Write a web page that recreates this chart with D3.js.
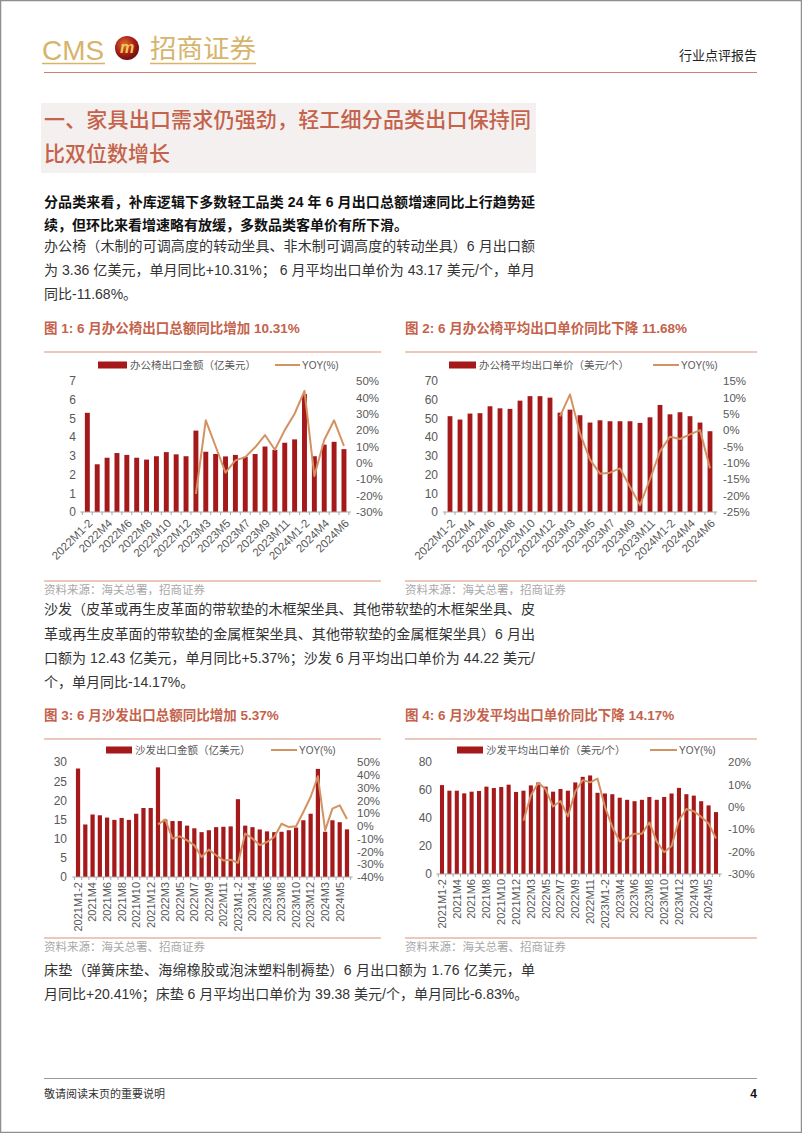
<!DOCTYPE html>
<html>
<head>
<meta charset="utf-8">
<script src="https://cdn.jsdelivr.net/npm/d3@7"></script>
<style>
  body { margin: 0; background: #fff; }
  svg { display: block; font-family: "Liberation Sans", "Noto Sans CJK SC", sans-serif; }
</style>
</head>
<body>
<svg id="page" width="802" height="1133"></svg>
<script>
// ---- data ----
const chairMonths = ["2022M1-2","2022M3","2022M4","2022M5","2022M6","2022M7","2022M8","2022M9","2022M10","2022M11","2022M12",
  "2023M1-2","2023M3","2023M4","2023M5","2023M6","2023M7","2023M8","2023M9","2023M10","2023M11","2023M12",
  "2024M1-2","2024M3","2024M4","2024M5","2024M6"];
const chairAmount = [5.3, 2.55, 2.9, 3.15, 3.05, 2.9, 2.8, 2.98, 3.2, 3.08, 2.98,
  4.35, 3.22, 3.1, 2.97, 3.05, 2.95, 3.1, 3.5, 3.32, 3.7, 3.88,
  6.3, 2.98, 3.6, 3.75, 3.36];
const chairAmountYoy = [null, null, null, null, null, null, null, null, null, null, null,
  -19, 26, 10, -6, 1.5, 3.5, 9.5, 17, 8, 20, 30,
  44, -8, 14, 26, 10.31];
const chairPrice = [51.2, 49.4, 52.6, 52.8, 56.5, 55.4, 55.1, 59.5, 61.9, 61.9, 61.1,
  53.1, 54.7, 51.7, 47.8, 49.0, 48.5, 48.5, 48.5, 47.6, 50.6, 57.2,
  52.2, 53.3, 51.2, 47.8, 43.17];
const chairPriceYoy = [null, null, null, null, null, null, null, null, null, null, null,
  4.2, 10.9, -1, -9, -13.3, -13, -11.7, -17.3, -22.9, -15, -6.5,
  -2, -2.7, -1.3, 0, -11.68];

const sofaMonths = ["2021M1-2","2021M3","2021M4","2021M5","2021M6","2021M7","2021M8","2021M9","2021M10","2021M11","2021M12",
  "2022M1-2","2022M3","2022M4","2022M5","2022M6","2022M7","2022M8","2022M9","2022M10","2022M11","2022M12",
  "2023M1-2","2023M3","2023M4","2023M5","2023M6","2023M7","2023M8","2023M9","2023M10","2023M11","2023M12",
  "2024M1-2","2024M3","2024M4","2024M5","2024M6"];
const sofaAmount = [28.3, 13.7, 16.3, 16.1, 15.5, 14.9, 15.4, 14.9, 16.5, 18.0, 18.0,
  28.6, 15.0, 14.6, 14.6, 13.4, 12.7, 11.7, 12.2, 13.0, 13.1, 13.2,
  20.3, 13.4, 13.0, 12.4, 11.9, 11.7, 11.8, 12.2, 12.9, 14.8, 16.5,
  28.2, 11.8, 14.8, 14.3, 12.43];
const sofaAmountYoy = [null, null, null, null, null, null, null, null, null, null, null,
  1.2, 4.9, -10, -8.2, -11.3, -15.2, -24.4, -18.6, -23, -27, -26.5,
  -29, -6, -10, -15, -12.6, -8.7, 1.7, -0.9, -0.3, 10.9, 22.6,
  38.8, -3.5, 13.5, 16.1, 5.37];
const sofaPrice = [63.5, 59.5, 59.5, 57.6, 58.8, 59.3, 62.4, 61.4, 62.1, 63.8, 58.6,
  59.5, 63.3, 65.4, 62.4, 58.8, 60.7, 59.5, 65.4, 69.4, 70.4, 58,
  57.5, 57, 54.5, 53, 52, 53, 55, 53, 55, 57.5, 61.5,
  57, 56, 52, 49, 44.22];
const sofaPriceYoy = [null, null, null, null, null, null, null, null, null, null, null,
  -6.2, 5, 10.7, 7.8, 0.1, 2.6, -4.3, 6.8, 11.9, 10.9, 12.6,
  0, -9, -15.5, -14, -12, -12, -7, -15.5, -20.3, -17.5, -6,
  -1, -2, -4.5, -7.5, -14.17];

// tick values
const chairAmountTicks = [0, 1, 2, 3, 4, 5, 6, 7];
const chairAmountYoyTicks = [-30, -20, -10, 0, 10, 20, 30, 40, 50];
const chairPriceTicks = [0, 10, 20, 30, 40, 50, 60, 70];
const chairPriceYoyTicks = [-25, -20, -15, -10, -5, 0, 5, 10, 15];
const sofaAmountTicks = [0, 5, 10, 15, 20, 25, 30];
const sofaAmountYoyTicks = [-40, -30, -20, -10, 0, 10, 20, 30, 40, 50];
const sofaPriceTicks = [0, 20, 40, 60, 80];
const sofaPriceYoyTicks = [-30, -20, -10, 0, 10, 20];

const BAR = "#a5191b";
const LINE = "#d39262";
const TITLE = "#c4624b";
const RULE = "#dc8d7b";
const AXIS_TXT = "#595959";

const svg = d3.select("#page");

// page frame
svg.append("rect").attr("x", 0.5).attr("y", 0.5).attr("width", 801).attr("height", 1132)
  .attr("fill", "#fff").attr("stroke", "#8f8f8f").attr("stroke-width", 1.5);

// ---- header ----
const gold = "#d6b46b";
svg.append("text").attr("x", 42).attr("y", 60).text("CMS")
  .attr("font-size", 28).attr("fill", gold).attr("textLength", 62).attr("lengthAdjust", "spacingAndGlyphs");
const grad = svg.append("defs").append("radialGradient").attr("id", "ball").attr("cx", "40%").attr("cy", "35%").attr("r", "65%");
grad.append("stop").attr("offset", "0%").attr("stop-color", "#e0702a");
grad.append("stop").attr("offset", "60%").attr("stop-color", "#a8201a");
grad.append("stop").attr("offset", "100%").attr("stop-color", "#6e1010");
svg.append("circle").attr("cx", 127).attr("cy", 48).attr("r", 12).attr("fill", "url(#ball)");
svg.append("text").attr("x", 127).attr("y", 53).attr("text-anchor", "middle").text("m")
  .attr("font-size", 16).attr("font-weight", "bold").attr("font-style", "italic").attr("fill", "#f1c75a");
svg.append("text").attr("x", 150).attr("y", 58).text("招商证券")
  .attr("font-size", 26).attr("fill", gold).attr("font-family", "Noto Sans CJK SC")
  .attr("textLength", 106).attr("lengthAdjust", "spacingAndGlyphs");
svg.append("line").attr("x1", 42).attr("x2", 105).attr("y1", 63.5).attr("y2", 63.5).attr("stroke", gold).attr("stroke-width", 1.5);
svg.append("line").attr("x1", 150).attr("x2", 256).attr("y1", 63.5).attr("y2", 63.5).attr("stroke", gold).attr("stroke-width", 1.5);
svg.append("text").attr("x", 757).attr("y", 60).attr("text-anchor", "end").text("行业点评报告")
  .attr("font-size", 13).attr("fill", "#222");
svg.append("line").attr("x1", 44).attr("x2", 757).attr("y1", 72.5).attr("y2", 72.5).attr("stroke", "#cf7f70").attr("stroke-width", 1);

// ---- section title ----
svg.append("rect").attr("x", 41).attr("y", 103).attr("width", 495).attr("height", 70).attr("fill", "#f4f0ef");
function line(txt, x, y, opts) {
  const t = svg.append("text").attr("x", x).attr("y", y).text(txt)
    .attr("font-size", opts.size).attr("fill", opts.color || "#333");
  if (opts.weight) t.attr("font-weight", opts.weight);
  if (opts.width) t.attr("textLength", opts.width).attr("lengthAdjust", "spacing");
  if (opts.anchor) t.attr("text-anchor", opts.anchor);
  return t;
}
line("一、家具出口需求仍强劲，轻工细分品类出口保持同", 44, 127, {size: 21, color: TITLE, weight: 500, width: 487});
line("比双位数增长", 44, 161, {size: 21, color: TITLE, weight: 500});

// ---- paragraphs ----
line("分品类来看，补库逻辑下多数轻工品类 24 年 6 月出口总额增速同比上行趋势延", 44, 207, {size: 14, color: "#111", weight: "bold", width: 491});
line("续，但环比来看增速略有放缓，多数品类客单价有所下滑。", 44, 230, {size: 14, color: "#111", weight: "bold"});
line("办公椅（木制的可调高度的转动坐具、非木制可调高度的转动坐具）6 月出口额", 44, 251, {size: 14, width: 491});
line("为 3.36 亿美元，单月同比+10.31%；  6 月平均出口单价为 43.17 美元/个，单月", 44, 275, {size: 14, width: 491});
line("同比-11.68%。", 44, 299, {size: 14});

line("沙发（皮革或再生皮革面的带软垫的木框架坐具、其他带软垫的木框架坐具、皮", 44, 614, {size: 14, width: 491});
line("革或再生皮革面的带软垫的金属框架坐具、其他带软垫的金属框架坐具）6 月出", 44, 639, {size: 14, width: 491});
line("口额为 12.43 亿美元，单月同比+5.37%；沙发 6 月平均出口单价为 44.22 美元/", 44, 663, {size: 14, width: 491});
line("个，单月同比-14.17%。", 44, 687, {size: 14});

line("床垫（弹簧床垫、海绵橡胶或泡沫塑料制褥垫）6 月出口额为 1.76 亿美元，单", 44, 975, {size: 14, width: 491});
line("月同比+20.41%；床垫 6 月平均出口单价为 39.38 美元/个，单月同比-6.83%。", 44, 999, {size: 14});

// ---- footer ----
svg.append("line").attr("x1", 44).attr("x2", 757).attr("y1", 1078.5).attr("y2", 1078.5).attr("stroke", "#9a9a9a");
line("敬请阅读末页的重要说明", 44, 1098, {size: 11, color: "#333"});
line("4", 757, 1098, {size: 12, color: "#111", weight: "bold", anchor: "end"});

// ---- charts ----
function drawChart(c) {
  const g = svg.append("g");
  // title + rules + source
  g.append("text").attr("x", c.left).attr("y", c.titleY).text(c.title)
    .attr("font-size", 13.5).attr("font-weight", "bold").attr("fill", TITLE);
  g.append("line").attr("x1", c.left).attr("x2", c.right).attr("y1", c.titleY + 19).attr("y2", c.titleY + 19)
    .attr("stroke", RULE).attr("stroke-width", 1.2);
  g.append("line").attr("x1", c.left).attr("x2", c.right).attr("y1", c.sourceY - 9).attr("y2", c.sourceY - 9)
    .attr("stroke", RULE).attr("stroke-width", 1);
  g.append("text").attr("x", c.left).attr("y", c.sourceY + 4).text(c.source)
    .attr("font-size", 11.5).attr("fill", "#a8a8a8");

  // legend
  g.append("rect").attr("x", c.legBar[0]).attr("y", c.legY - 3.5).attr("width", c.legBar[1] - c.legBar[0]).attr("height", 7).attr("fill", BAR);
  g.append("text").attr("x", c.legBar[1] + 3).attr("y", c.legY + 3.5).text(c.barName).attr("font-size", 10.5).attr("fill", AXIS_TXT);
  g.append("line").attr("x1", c.legLine[0]).attr("x2", c.legLine[1]).attr("y1", c.legY).attr("y2", c.legY).attr("stroke", LINE).attr("stroke-width", 2);
  g.append("text").attr("x", c.legLine[1] + 2).attr("y", c.legY + 3.5).text("YOY(%)").attr("font-size", 10).attr("fill", AXIS_TXT);

  const x = d3.scaleBand().domain(c.months).range(c.xRange).paddingInner(c.pad).paddingOuter(c.pad / 2);
  const y = d3.scaleLinear().domain(d3.extent(c.leftTicks)).range([c.yBottom, c.yTop]);
  const y2 = d3.scaleLinear().domain(d3.extent(c.rightTicks)).range([c.yBottom, c.yTop]);

  // left axis
  const ax = g.append("g").attr("transform", `translate(${c.leftLabelX},0)`)
    .call(d3.axisLeft(y).tickValues(c.leftTicks).tickSize(0).tickPadding(0).tickFormat(d3.format("d")));
  ax.select(".domain").remove();
  ax.selectAll("text").attr("font-size", 12).attr("fill", AXIS_TXT).attr("font-family", "Liberation Sans");

  // right axis
  const ar = g.append("g").attr("transform", `translate(${c.rightLabelX},0)`)
    .call(d3.axisRight(y2).tickValues(c.rightTicks).tickSize(0).tickPadding(0).tickFormat(d => d + "%"));
  ar.select(".domain").remove();
  ar.selectAll("text").attr("font-size", 11.5).attr("fill", AXIS_TXT).attr("font-family", "Liberation Sans");

  // bars
  g.selectAll("rect.bar").data(c.bars).join("rect").attr("class", "bar")
    .attr("x", (d, i) => x(c.months[i]))
    .attr("width", x.bandwidth())
    .attr("y", d => y(d))
    .attr("height", d => y(0) - y(d))
    .attr("fill", BAR);

  // x axis line with ticks at band edges
  const xa = g.append("g").attr("transform", `translate(0,${c.yBottom})`);
  xa.append("line").attr("x1", c.xRange[0] - 2).attr("x2", c.xRange[1] + 2).attr("stroke", "#a6a6a6");
  const step = x.step();
  xa.selectAll("line.tk").data(c.months.concat(["_end"])).join("line").attr("class", "tk")
    .attr("x1", (d, i) => x(c.months[0]) + x.bandwidth() / 2 - step / 2 + i * step)
    .attr("x2", (d, i) => x(c.months[0]) + x.bandwidth() / 2 - step / 2 + i * step)
    .attr("y1", 0).attr("y2", 3).attr("stroke", "#a6a6a6");

  const shown = c.months.filter((m, i) => i % 2 === 0);
  const lab = g.append("g").attr("transform", `translate(0,${c.yBottom})`)
    .call(d3.axisBottom(x).tickValues(shown).tickSize(0));
  lab.select(".domain").remove();
  lab.selectAll("text").attr("fill", AXIS_TXT).attr("font-family", "Liberation Sans")
    .attr("font-size", c.rotate === -45 ? 11.5 : 11)
    .attr("text-anchor", "end").attr("y", 0).attr("x", 0).attr("dy", "0.35em")
    .attr("transform", c.rotate === -45 ? "translate(3,9) rotate(-45)" : "translate(0,5) rotate(-90)");

  // yoy line
  const pts = c.yoy.map((v, i) => [v, i]).filter(d => d[0] !== null);
  g.append("path").datum(pts)
    .attr("d", d3.line().x(d => x(c.months[d[1]]) + x.bandwidth() / 2).y(d => y2(d[0])))
    .attr("fill", "none").attr("stroke", LINE).attr("stroke-width", 2).attr("stroke-linejoin", "round");
}

drawChart({
  left: 44, right: 381, titleY: 333, sourceY: 590,
  title: "图 1:  6 月办公椅出口总额同比增加 10.31%", source: "资料来源：海关总署，招商证券",
  legY: 365, legBar: [98, 127], legLine: [275, 300], barName: "办公椅出口金额（亿美元）",
  months: chairMonths, bars: chairAmount, yoy: chairAmountYoy,
  leftTicks: chairAmountTicks, rightTicks: chairAmountYoyTicks,
  xRange: [82.4, 348.9], pad: 0.5, yTop: 381, yBottom: 512,
  leftLabelX: 76, rightLabelX: 356, rotate: -45
});
drawChart({
  left: 405, right: 757, titleY: 333, sourceY: 590,
  title: "图 2:  6 月办公椅平均出口单价同比下降 11.68%", source: "资料来源：海关总署，招商证券",
  legY: 365, legBar: [449, 476], legLine: [653, 679], barName: "办公椅平均出口单价（美元/个）",
  months: chairMonths, bars: chairPrice, yoy: chairPriceYoy,
  leftTicks: chairPriceTicks, rightTicks: chairPriceYoyTicks,
  xRange: [445, 715], pad: 0.52, yTop: 381, yBottom: 512,
  leftLabelX: 438, rightLabelX: 723, rotate: -45
});
drawChart({
  left: 44, right: 381, titleY: 720, sourceY: 947,
  title: "图 3:  6 月沙发出口总额同比增加 5.37%", source: "资料来源：海关总署、招商证券",
  legY: 750, legBar: [106, 132], legLine: [271, 297], barName: "沙发出口金额（亿美元）",
  months: sofaMonths, bars: sofaAmount, yoy: sofaAmountYoy,
  leftTicks: sofaAmountTicks, rightTicks: sofaAmountYoyTicks,
  xRange: [74.4, 350.6], pad: 0.42, yTop: 762, yBottom: 877,
  leftLabelX: 67, rightLabelX: 357, rotate: -90
});
drawChart({
  left: 405, right: 757, titleY: 720, sourceY: 947,
  title: "图 4:  6 月沙发平均出口单价同比下降 14.17%", source: "资料来源：海关总署、招商证券",
  legY: 750, legBar: [457, 483], legLine: [650, 677], barName: "沙发平均出口单价（美元/个）",
  months: sofaMonths, bars: sofaPrice, yoy: sofaPriceYoy,
  leftTicks: sofaPriceTicks, rightTicks: sofaPriceYoyTicks,
  xRange: [438.3, 719.7], pad: 0.45, yTop: 762, yBottom: 874,
  leftLabelX: 432, rightLabelX: 728, rotate: -90
});
</script>
</body>
</html>
